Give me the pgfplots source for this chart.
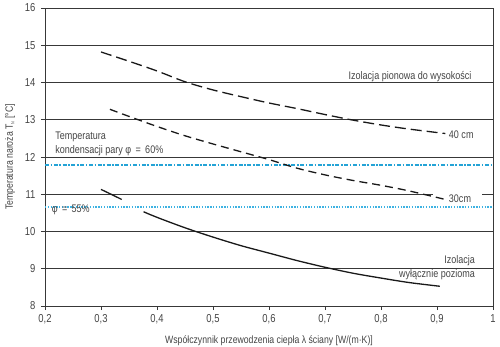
\documentclass[border=0pt]{standalone}
\usepackage{pgfplots}
\pgfplotsset{compat=1.18}
\usepackage{fontspec}
\setmainfont{Liberation Sans}[FakeStretch=0.82]
\definecolor{gridc}{HTML}{383838}
\definecolor{txt}{HTML}{444444}
\definecolor{cyanA}{HTML}{24A3D6}
\definecolor{cyanB}{HTML}{3DB2E2}
\begin{document}
\begin{tikzpicture}
\begin{axis}[
  at={(0,0)}, anchor=south west,
  scale only axis, width=448pt, height=298pt,
  xmin=0.2, xmax=1, ymin=8, ymax=16,
  xtick={0.2,0.3,0.4,0.5,0.6,0.7,0.8,0.9,1},
  xticklabels={{0,2},{0,3},{0,4},{0,5},{0,6},{0,7},{0,8},{0,9},1},
  ytick={8,9,...,16},
  /pgf/number format/assume math mode=true,
  tick align=outside, xtick pos=bottom, ytick pos=left,
  major tick length=4pt,
  tick style={gridc, line width=0.7pt},
  axis line style={gridc, line width=0.8pt},
  ymajorgrids, grid style={gridc, line width=0.8pt},
  tick label style={font=\fontsize{11.5}{13}\selectfont, text=txt},
  xticklabel style={yshift=-1pt},
  yticklabel style={xshift=-2pt},
  xlabel={Współczynnik przewodzenia ciepła λ ściany [W/(m·K)]},
  ylabel={Temperatura naroża T\textsubscript{\scalebox{0.6}{N}} [°C]},
  xlabel style={at={(axis description cs:0.5,-0.117)}, anchor=center, font=\fontsize{10.6}{12}\selectfont, text=txt},
  ylabel style={at={(axis description cs:-0.078,0.5)}, anchor=center, rotate=0, font=\fontsize{10.6}{12}\selectfont, text=txt},
]
% white gap in the 11 gridline behind the "30cm" label
\fill[white] (axis cs:0.893,10.95) rectangle (axis cs:0.98,11.05);
% condensation lines
\addplot[cyanA, line width=1.6pt, dash pattern=on 4pt off 1.6pt on 1.6pt off 1.6pt] coordinates {(0.2,11.78) (1,11.78)};
\addplot[cyanB, line width=1.3pt, dash pattern=on 1.4pt off 1.4pt] coordinates {(0.2,10.66) (1,10.66)};
% 40 cm
\addplot[black!90, line width=1.3pt, dash pattern=on 11pt off 5pt, smooth] coordinates {
(0.30,14.82) (0.35,14.57) (0.40,14.31) (0.45,14.02) (0.50,13.80) (0.55,13.62)
(0.60,13.45) (0.65,13.30) (0.70,13.14) (0.75,12.99) (0.80,12.86) (0.85,12.75) (0.915,12.63)};
% 30 cm
\addplot[black!90, line width=1.3pt, dash pattern=on 8pt off 5pt, smooth] coordinates {
(0.316,13.28) (0.35,13.09) (0.40,12.82) (0.45,12.57) (0.50,12.35) (0.55,12.14)
(0.60,11.93) (0.65,11.70) (0.70,11.52) (0.75,11.37) (0.80,11.24) (0.85,11.09) (0.915,10.86)};
% horizontal insulation only
\addplot[black!90, line width=1.3pt, smooth] coordinates {(0.30,11.13) (0.318,11.0) (0.337,10.86)};
\addplot[black!90, line width=1.3pt, smooth] coordinates {
(0.376,10.53) (0.40,10.38) (0.45,10.10) (0.50,9.85) (0.55,9.62) (0.60,9.42)
(0.65,9.22) (0.70,9.04) (0.75,8.88) (0.80,8.75) (0.85,8.63) (0.905,8.53)};
% labels
\node[anchor=west, align=left, text=txt, font=\fontsize{11}{14}\selectfont, inner sep=0pt] at (axis cs:0.218,12.36) {Temperatura\\kondensacji pary φ \,=\, 60\%};
\node[anchor=west, text=txt, font=\fontsize{11}{12}\selectfont, inner sep=0pt] at (axis cs:0.212,10.57) {φ \,=\, 55\%};
\node[anchor=east, text=txt, font=\fontsize{11}{12}\selectfont, inner sep=0pt] at (axis cs:0.962,14.17) {Izolacja pionowa do wysokości};
\node[anchor=west, text=txt, font=\fontsize{11}{12}\selectfont, inner sep=0pt] at (axis cs:0.921,12.59) {40 cm};
\node[anchor=west, text=txt, font=\fontsize{11}{12}\selectfont, inner sep=0pt] at (axis cs:0.921,10.87) {30cm};
\node[anchor=east, align=right, text=txt, font=\fontsize{11}{14}\selectfont, inner sep=0pt] at (axis cs:0.968,9.03) {Izolacja\\wyłącznie pozioma};
\end{axis}
\pgfresetboundingbox
\path (-45pt,-40pt) rectangle (455pt,306pt);
\end{tikzpicture}
\end{document}
